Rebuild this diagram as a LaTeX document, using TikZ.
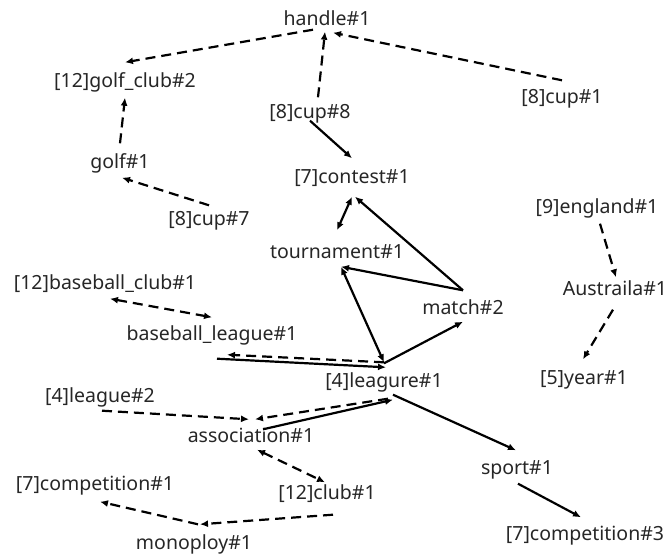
\documentclass[tikz,border=0pt]{standalone}
\usepackage{fontspec}
\setmainfont{Noto Sans}
\usetikzlibrary{arrows.meta}

\begin{document}
\begin{tikzpicture}[x=1pt,y=-1pt,
    word/.style={font=\fontsize{19.5}{22}\selectfont, text height=14pt, text depth=4pt, inner sep=0.5pt, text=black!85},
    link/.style={line width=2.2pt, -{Latex[length=8pt,width=7pt]}},
    dlink/.style={link, dash pattern=on 10pt off 6pt},
    twoway/.style={{Latex[length=8pt,width=7pt]}-{Latex[length=8pt,width=7pt]}}
  ]

    % --- Frame (pixel grid of the picture) ---
    \useasboundingbox (0,0) rectangle (667,557);

    % --- Word nodes ---
    \node[word] (handle)           at (327,20)  {handle\#1};
    \node[word] (golfclub)         at (125,82)  {[12]golf\_club\#2};
    \node[word] (cupone)           at (562,98)  {[8]cup\#1};
    \node[word] (cupeight)         at (310,113) {[8]cup\#8};
    \node[word] (golf)             at (120,163) {golf\#1};
    \node[word] (contest)          at (352,178) {[7]contest\#1};
    \node[word] (cupseven)         at (209,220) {[8]cup\#7};
    \node[word] (england)          at (597,208) {[9]england\#1};
    \node[word] (tournament)       at (337,253) {tournament\#1};
    \node[word] (baseballclub)     at (105,284) {[12]baseball\_club\#1};
    \node[word] (match)            at (463,309) {match\#2};
    \node[word] (austraila)        at (615,290) {Austraila\#1};
    \node[word] (baseballleague)   at (212,335) {baseball\_league\#1};
    \node[word] (leagure)          at (384,382) {[4]leagure\#1};
    \node[word] (year)             at (584,379) {[5]year\#1};
    \node[word] (leaguetwo)        at (100,397) {[4]league\#2};
    \node[word] (association)      at (251,437) {association\#1};
    \node[word] (competitionone)   at (95,485)  {[7]competition\#1};
    \node[word] (sport)            at (517,469) {sport\#1};
    \node[word] (club)             at (327,494) {[12]club\#1};
    \node[word] (monoploy)         at (194,544) {monoploy\#1};
    \node[word] (competitionthree) at (585,535) {[7]competition\#3};

    % --- Upper part: handle, golf, cup ---
    \draw[dlink] ([xshift=-14pt]handle.south) -- ([yshift=10pt]golfclub.north);
    \draw[dlink] ([xshift=8pt,yshift=6pt]cupeight.north) -- ([xshift=-2pt,yshift=-2pt]handle.south);
    \draw[dlink] ([yshift=8pt]cupone.north) -- ([xshift=6pt,yshift=-3pt]handle.south);
    \draw[dlink] ([yshift=10pt]golf.north) -- ([yshift=-6pt]golfclub.south);
    \draw[dlink] ([yshift=5pt]cupseven.north) -- ([xshift=2pt,yshift=-5pt]golf.south);
    \draw[link] ([yshift=2pt]cupeight.south) -- ([yshift=10pt]contest.north);

    % --- Middle: contest, tournament, match, leagure ---
    \draw[link,twoway] ([yshift=-9pt]contest.south) -- ([yshift=13pt]tournament.north);
    \draw[link] ([yshift=9pt]match.north) -- ([xshift=3pt,yshift=-9pt]contest.south);
    \draw[link] ([yshift=9pt]match.north) -- ([xshift=4pt,yshift=-4pt]tournament.south);
    \draw[link,twoway] ([xshift=4pt,yshift=-4pt]tournament.south) -- ([yshift=10pt]leagure.north);
    \draw[link] ([yshift=9pt]leagure.north) -- ([yshift=-3pt]match.south);

    % --- Baseball and association ---
    \draw[link] ([xshift=5pt,yshift=-14pt]baseballleague.south) -- ([xshift=2pt,yshift=5pt]leagure.north);
    \draw[dlink] ([yshift=10pt]leagure.north) -- ([xshift=15pt,yshift=-10pt]baseballleague.south);
    \draw[dlink,twoway] ([xshift=5pt,yshift=-5pt]baseballclub.south) -- ([yshift=8pt]baseballleague.north);
    \draw[dlink] ([xshift=2pt,yshift=-4pt]leaguetwo.south) -- ([xshift=-2pt,yshift=8pt]association.north);
    \draw[dlink] ([xshift=4pt,yshift=-7pt]leagure.south) -- ([xshift=4pt,yshift=8pt]association.north);
    \draw[link] ([xshift=12pt,yshift=-2pt]association.north) -- ([xshift=9pt,yshift=-8pt]leagure.south);
    \draw[link] ([xshift=9pt,yshift=-3pt]leagure.south) -- ([xshift=-1pt,yshift=9pt]sport.north);
    \draw[link] ([xshift=1pt,yshift=-5pt]sport.south) -- ([xshift=-4pt,yshift=8pt]competitionthree.north);

    % --- Lower left: club, monoploy ---
    \draw[dlink,twoway] ([xshift=6pt,yshift=-3pt]association.south) -- ([xshift=-2pt,yshift=2pt]club.north);
    \draw[dlink] ([xshift=6pt,yshift=-11pt]club.south) -- ([xshift=6pt,yshift=10pt]monoploy.north);
    \draw[dlink] ([xshift=4pt,yshift=10pt]monoploy.north) -- ([xshift=5pt,yshift=-7pt]competitionone.south);

    % --- Right: england, Austraila, year ---
    \draw[dlink] ([xshift=3pt,yshift=-6pt]england.south) -- ([xshift=1pt,yshift=3pt]austraila.north);
    \draw[dlink] ([xshift=-2pt,yshift=-10pt]austraila.south) -- ([xshift=-1pt,yshift=10pt]year.north);

\end{tikzpicture}
\end{document}
